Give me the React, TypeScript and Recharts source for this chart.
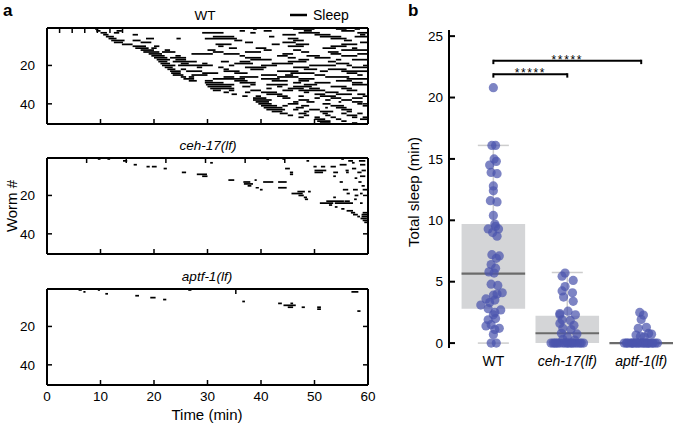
import React from "react";
import {
  ComposedChart,
  XAxis,
  YAxis,
  ReferenceArea,
  ReferenceLine,
  Scatter,
} from "recharts";

const FONT = '"Liberation Sans", Arial, Helvetica, sans-serif';

// ---- panel a: sleep bouts, one row per worm, flat [start, end, start, end, ...] in min
const wtBouts: number[][] = [
  [9, 9.6, 38.5, 39.2, 46, 50, 54, 56, 57.5, 58.5],
  [9.2, 10, 13, 14, 36, 37, 40.5, 42, 48, 49.5, 55, 57.5],
  [10, 11.2, 12.5, 13.5, 29, 33, 38, 39, 47, 51, 58, 60],
  [10.5, 11.5, 16, 17, 44, 46.5, 50, 53, 58.5, 59.5],
  [11, 12.5, 31, 35, 41.5, 42.5, 51, 55, 57.5, 60],
  [11.5, 13, 18.5, 20, 24.2, 25, 29.5, 35.5, 45, 47, 53, 56],
  [12, 14.5, 16, 17.5, 35, 36.5, 46, 48, 55.5, 57],
  [12.5, 14.2, 17.5, 19.5, 37, 38.5, 44, 46.5, 58.5, 60],
  [14, 16, 31.5, 34.5, 42, 43.5, 46.5, 49, 55, 58],
  [16, 18.5, 20, 21, 32, 33, 45, 48, 53, 56],
  [16.5, 19, 19.5, 20.5, 34, 35.5, 39, 41, 51.5, 54, 57, 58],
  [17.5, 20, 22, 23, 30, 31.5, 40.5, 42, 46, 47.5, 55, 60],
  [18, 21, 21.5, 24, 31, 33, 37, 40, 47.5, 49, 52.5, 54.5],
  [19, 21.5, 27, 31, 33, 36, 44, 46, 53, 55, 58, 60],
  [19.5, 22, 24, 25, 36, 37, 43, 45, 48.5, 51, 55, 58],
  [20, 22.5, 23, 26, 37, 40, 45, 46.5, 50, 53],
  [20.5, 23, 24, 26, 38, 42, 47, 49, 54, 55, 57, 60],
  [20.8, 22.5, 23.5, 28, 32.5, 34, 36, 38, 45, 48.5, 52.5, 54],
  [21.2, 23, 25, 26.5, 29, 30, 35, 38.5, 42, 46, 54, 56.5],
  [21.5, 24, 24.5, 31, 34, 35, 40, 43, 49, 54, 56, 57],
  [22, 23.5, 28, 29, 32, 33, 37, 41, 46, 49, 57, 60],
  [22.5, 24, 25, 26, 33, 34, 38, 40.5, 48, 50.5, 52.5, 56],
  [23, 25, 26, 29, 33, 36, 43, 47, 51, 52.5, 55, 60],
  [23.2, 25, 29, 32, 35, 37.5, 45.5, 50, 56, 58],
  [23.5, 25.5, 27, 30, 40, 43, 44.5, 46, 50, 52, 58, 59],
  [25, 26, 26.5, 27.5, 33, 35, 36, 39.5, 43, 47, 52, 56.5],
  [25.5, 27.5, 31, 37, 40, 43.5, 47, 50, 56, 60],
  [26.5, 28, 29.5, 31, 35, 37.5, 42, 45, 47, 49, 54, 57],
  [29.5, 33, 36, 39, 46, 47.5, 50, 53, 57, 59],
  [29.7, 35, 38, 39, 41, 45, 48, 50.5, 57, 60],
  [30, 34.5, 36.5, 38, 43, 44, 46, 49.5, 53, 56],
  [30.5, 35, 41, 42, 45, 48, 49, 51, 55, 57],
  [31, 32.5, 34, 35, 38, 40, 44, 46, 47, 52, 56, 58],
  [33, 34, 37, 38, 40, 43, 48, 49, 52, 54.5],
  [34.5, 35.5, 41, 44, 50, 52, 54, 57, 58, 59.5],
  [36.5, 37.5, 39, 40, 43, 45, 47, 48, 51, 54, 59, 60],
  [38.5, 41, 44, 45.5, 50, 51, 53, 55, 57, 59],
  [38.5, 42, 47, 49, 52, 53, 55, 57],
  [39, 41.5, 46, 47, 48.5, 50, 54.5, 55, 57, 59],
  [39.5, 42, 45, 47, 51.5, 53, 58, 59],
  [40, 43, 44, 45, 47.5, 49, 53, 55.5, 59, 60],
  [40.5, 44, 46.5, 48, 52, 52.5, 54, 56],
  [41, 44.5, 46, 47, 49, 51, 55, 57],
  [42, 44, 48, 49, 51, 53.5, 56, 57],
  [43.5, 45, 47, 48.5, 51.5, 52.5, 55, 56, 58, 59],
  [45, 46, 48, 49, 52, 53, 56, 58],
  [47, 48, 50, 51, 53, 54, 57, 58, 59, 60],
  [50, 52, 54, 55, 58.5, 60],
  [50.5, 53, 55, 56],
  [51, 53, 57, 58],
];

const cehBouts: number[][] = [
  [9.5, 10, 11.3, 11.8, 41, 41.5, 44, 44.5, 55, 55.5],
  [14.2, 15, 48.5, 49, 56.3, 57.2, 58.3, 59.5],
  [30.5, 31, 57, 57.5],
  [16.2, 16.8, 54.7, 56, 58.5, 59.5],
  [18.6, 19.2, 19.6, 20.5, 49.8, 50.4, 51.2, 52, 53, 54],
  [21.8, 22.4, 44.5, 45.4, 57, 57.8],
  [50, 52.2, 55.8, 56.4, 58.8, 59.6],
  [25.2, 26, 45.4, 46, 50, 51.6, 53.5, 54.4, 55.9, 56.4, 58, 58.8],
  [28, 29.9, 45.4, 46],
  [29, 30, 53.5, 54, 58.5, 59.5],
  [57.5, 58],
  [33.9, 35, 38.8, 39.2],
  [36.7, 38, 40.4, 42.3, 43.2, 44.8, 54.7, 55.3, 58.2, 58.8],
  [36.8, 38.5],
  [37.5, 38.2, 58.8, 59.4],
  [39, 39.6, 43.2, 44.8],
  [39.8, 40.3, 55.3, 56.3, 57.2, 58.1, 59, 60],
  [46.8, 48.2, 48.8, 49.3],
  [45.7, 47.8, 56, 56.6, 58.5, 59],
  [47, 48, 57.5, 58.2],
  [48, 48.6, 53.5, 54],
  [48.2, 48.8, 57.4, 57.9],
  [52.2, 55.5, 55.6, 56.6],
  [51, 53.5, 53.8, 57.2, 58.5, 59],
  [52.7, 53.3],
  [53.8, 54.3],
  [55, 55.6],
  [56, 57.2],
  [56.8, 57.6, 59, 60],
  [57.2, 58.1, 58.8, 60],
  [58, 58.5, 58.8, 60],
  [58.6, 59.8],
  [59, 60],
  [59.3, 60],
];

const aptfBouts: number[][] = [
  [5.9, 6.5, 9.5, 9.9, 26.4, 27],
  [6.8, 7.2, 56.9, 58.2],
  [10.9, 11.4],
  [16.5, 17.2],
  [19.3, 20.3],
  [21.7, 22.3],
  [36.5, 37],
  [43.2, 43.9, 45.5, 46],
  [44.2, 46.5],
  [45, 46, 47.6, 48.2, 50.5, 51.2],
  [50.5, 51.2],
  [58, 58.6],
];

const timeTicks = [0, 10, 20, 30, 40, 50, 60];
const wormTicks = [20, 40];

// ---- panel b: total sleep per worm (min) and the x jitter of each dot
const groups = ["WT", "ceh-17(lf)", "aptf-1(lf)"];

const wtSleep = [
  20.8, 16.1, 16.1, 15.0, 14.8, 14.5, 13.9, 13.8, 12.8, 12.4, 11.6, 11.5, 10.4,
  9.7, 9.5, 9.3, 9.3, 9.0, 8.7, 7.2, 7.1, 6.9, 6.4, 6.1, 5.8, 5.7, 4.8, 4.7,
  4.1, 4.0, 3.9, 3.6, 3.5, 3.3, 3.1, 2.8, 2.7, 2.5, 2.3, 2.0, 1.9, 1.5, 1.4,
  1.2, 1.1, 0.7, 0.0, 0.0,
];
const wtJitter = [
  0, -0.02, 0.03, 0.01, 0.04, -0.05, -0.03, 0.05, 0, 0, -0.04, 0.05, 0, 0.02,
  0.03, -0.07, 0.07, -0.01, 0.05, -0.02, 0.08, 0.04, -0.03, 0.03, -0.06, 0.01,
  -0.03, 0.06, 0.12, 0.05, 0, -0.1, 0.02, -0.05, -0.17, -0.07, 0.1, 0.02, 0,
  0.03, -0.07, -0.03, -0.1, 0.08, 0.02, 0, -0.03, 0.04,
];

const cehSleep = [
  5.7, 5.45, 5.1, 4.6, 4.25, 4.1, 3.75, 3.4, 2.6, 2.4, 2.3, 2.3, 1.9, 1.85,
  1.6, 1.45, 1.2, 1.1, 0.8, 0.75, 0.5, 0.3, 0.25, 0, 0, 0, 0, 0, 0, 0, 0, 0,
  0, 0, 0, 0, 0, 0, 0, 0, 0,
];
const cehJitter = [
  -0.03, -0.07, 0.08, -0.03, -0.07, 0.07, -0.05, 0.08, 0.01, -0.1, -0.1, 0.11,
  -0.07, 0.04, -0.1, 0.09, -0.06, 0.05, -0.08, 0.13, 0, -0.06, 0.1, -0.22,
  -0.17, -0.13, -0.1, -0.06, -0.03, 0.01, 0.04, 0.08, 0.11, 0.14, 0.19, 0.22,
  -0.19, 0.0, 0.06, -0.15, 0.17,
];

const aptfSleep = [
  2.5, 2.28, 1.93, 1.28, 1.2, 0.79, 0.73, 0.65, 0.55, 0.5, 0, 0, 0, 0, 0, 0,
  0, 0, 0, 0, 0, 0, 0, 0, 0, 0, 0, 0, 0, 0, 0, 0,
];
const aptfJitter = [
  -0.02, 0.03, 0, 0.07, -0.04, 0.1, 0.14, -0.07, -0.01, 0.04, -0.23, -0.2,
  -0.16, -0.13, -0.11, -0.08, -0.04, -0.02, 0.01, 0.05, 0.07, 0.1, 0.12, 0.16,
  0.19, 0.22, -0.12, 0.03, -0.06, 0.09, 0.15, -0.19,
];

// box stats
const boxLow = [0, 0, 0];
const boxQ1 = [2.8, 0, 0];
const boxMedian = [5.65, 0.8, 0];
const boxQ3 = [9.7, 2.22, 0];
const boxHigh = [16.1, 5.75, 0];

const sleepTicks = [0, 5, 10, 15, 20, 25];
// [from group, to group, bracket height]
const sigBrackets = [
  [0, 1, 21.9],
  [0, 2, 23.0],
];
const sigText = "*****";

const DOT = "#4b55ad";

function toSegments(rows: number[][]) {
  const out: { worm: number; start: number; end: number }[] = [];
  rows.forEach((r, i) => {
    for (let k = 0; k + 1 < r.length; k += 2) {
      out.push({ worm: i + 1, start: r[k], end: r[k + 1] });
    }
  });
  return out;
}

const timeTick = (labels: boolean) => (p: any) => (
  <g>
    <line x1={p.x} x2={p.x} y1={p.y - 1} y2={p.y - 5} stroke="#000" strokeWidth={1.5} />
    {labels && (
      <text x={p.x} y={p.y + 16} textAnchor="middle" fontSize={13.5} fontFamily={FONT} fill="#000">
        {p.payload.value}
      </text>
    )}
  </g>
);

const topTick = (p: any) => (
  <line x1={p.x} x2={p.x} y1={p.y + 1} y2={p.y + 5} stroke="#000" strokeWidth={1.5} />
);

const wormTick = (p: any) => (
  <g>
    <line x1={p.x + 1} x2={p.x + 5} y1={p.y} y2={p.y} stroke="#000" strokeWidth={1.5} />
    <text x={p.x - 12} y={p.y + 4.8} textAnchor="end" fontSize={13.5} fontFamily={FONT} fill="#000">
      {p.payload.value}
    </text>
  </g>
);

const rightTick = (p: any) => (
  <line x1={p.x - 1} x2={p.x - 5} y1={p.y} y2={p.y} stroke="#000" strokeWidth={1.5} />
);

function Raster({
  rows,
  top,
  height,
  marginTop,
  showTime,
}: {
  rows: number[][];
  top: number;
  height: number;
  marginTop: number;
  showTime: boolean;
}) {
  const segs = toSegments(rows);
  const frame = { stroke: "#000", strokeWidth: 2 };
  return (
    <div style={{ position: "absolute", left: 0, top, width: 380, height }}>
      <ComposedChart
        width={380}
        height={height}
        data={segs}
        margin={{ top: marginTop - 1, right: 11, bottom: height - marginTop - 97, left: 46 }}
      >
        <XAxis
          type="number"
          dataKey="start"
          domain={[0, 60]}
          ticks={timeTicks}
          interval={0}
          allowDataOverflow
          height={1}
          tickSize={0}
          tickMargin={0}
          tickLine={false}
          axisLine={frame}
          tick={timeTick(showTime)}
        />
        <XAxis
          xAxisId="top"
          orientation="top"
          type="number"
          domain={[0, 60]}
          ticks={timeTicks}
          interval={0}
          allowDataOverflow
          height={1}
          tickSize={0}
          tickMargin={0}
          tickLine={false}
          axisLine={frame}
          tick={topTick}
        />
        <YAxis
          type="number"
          dataKey="worm"
          domain={[0.5, 50.5]}
          reversed
          ticks={wormTicks}
          interval={0}
          allowDataOverflow
          width={1}
          tickSize={0}
          tickMargin={0}
          tickLine={false}
          axisLine={frame}
          tick={wormTick}
        />
        <YAxis
          yAxisId="right"
          orientation="right"
          type="number"
          domain={[0.5, 50.5]}
          reversed
          ticks={wormTicks}
          interval={0}
          allowDataOverflow
          width={1}
          tickSize={0}
          tickMargin={0}
          tickLine={false}
          axisLine={frame}
          tick={rightTick}
        />
        {segs.map((s, i) => (
          <ReferenceArea
            key={i}
            x1={s.start}
            x2={s.end}
            y1={s.worm - 0.45}
            y2={s.worm + 0.45}
            fill="#000"
            fillOpacity={1}
            stroke="none"
            ifOverflow="hidden"
          />
        ))}
        <Scatter data={segs} shape={() => <g />} isAnimationActive={false} />
      </ComposedChart>
    </div>
  );
}

const sleepTick = (p: any) => (
  <g>
    <line x1={p.x} x2={p.x + 6} y1={p.y} y2={p.y} stroke="#000" strokeWidth={2} />
    <text x={p.x - 6} y={p.y + 4.8} textAnchor="end" fontSize={13.5} fontFamily={FONT} fill="#000">
      {p.payload.value}
    </text>
  </g>
);

const groupTick = (p: any) => (
  <text
    x={p.x}
    y={p.y + 18}
    textAnchor="middle"
    fontSize={14}
    fontFamily={FONT}
    fontStyle={p.payload.value > 0 ? "italic" : "normal"}
    fill="#000"
  >
    {groups[p.payload.value]}
  </text>
);

const dotShape = (p: any) => (
  <circle cx={p.cx} cy={p.cy} r={4.6} fill={DOT} fillOpacity={0.72} />
);

const starShape = (p: any) => (
  <text x={p.cx} y={p.cy + 3} textAnchor="middle" fontSize={12} letterSpacing={1.6} fontFamily={FONT} fill="#000">
    {sigText}
  </text>
);

function points(values: number[], jitter: number[], g: number) {
  return values.map((v, i) => ({ x: g + (jitter[i] ?? 0), y: v }));
}

function SleepBox() {
  const sets = [
    points(wtSleep, wtJitter, 0),
    points(cehSleep, cehJitter, 1),
    points(aptfSleep, aptfJitter, 2),
  ];
  const stars = sigBrackets.map(([a, b, h]) => ({ x: (a + b) / 2, y: h }));
  const half = 0.43;
  const cap = 0.21;
  return (
    <div style={{ position: "absolute", left: 420, top: 0, width: 253, height: 428 }}>
      <ComposedChart width={253} height={428} margin={{ top: 30, right: 0, bottom: 79, left: 28 }}>
        <XAxis
          type="number"
          dataKey="x"
          domain={[-0.6, 2.43]}
          ticks={[0, 1, 2]}
          interval={0}
          allowDataOverflow
          height={1}
          tickSize={0}
          tickMargin={0}
          tickLine={false}
          axisLine={false}
          tick={groupTick}
        />
        <YAxis
          type="number"
          dataKey="y"
          domain={[-0.4, 25.5]}
          ticks={sleepTicks}
          interval={0}
          allowDataOverflow
          width={1}
          tickSize={0}
          tickMargin={0}
          tickLine={false}
          axisLine={{ stroke: "#000", strokeWidth: 2 }}
          tick={sleepTick}
        />
        {groups.map((_, g) =>
          boxQ3[g] > boxQ1[g] ? (
            <ReferenceArea
              key={"box" + g}
              x1={g - half}
              x2={g + half}
              y1={boxQ1[g]}
              y2={boxQ3[g]}
              fill="#d4d5d7"
              fillOpacity={1}
              stroke="none"
              ifOverflow="hidden"
            />
          ) : null
        )}
        {groups.map((_, g) =>
          boxHigh[g] > boxQ3[g] ? (
            <ReferenceLine
              key={"wu" + g}
              segment={[
                { x: g, y: boxQ3[g] },
                { x: g, y: boxHigh[g] },
              ]}
              stroke="#cdcdcd"
              strokeWidth={1.5}
            />
          ) : null
        )}
        {groups.map((_, g) =>
          boxHigh[g] > boxQ3[g] ? (
            <ReferenceLine
              key={"cu" + g}
              segment={[
                { x: g - cap, y: boxHigh[g] },
                { x: g + cap, y: boxHigh[g] },
              ]}
              stroke="#cdcdcd"
              strokeWidth={1.5}
            />
          ) : null
        )}
        {groups.map((_, g) =>
          boxQ1[g] > boxLow[g] ? (
            <ReferenceLine
              key={"cl" + g}
              segment={[
                { x: g - cap, y: boxLow[g] },
                { x: g + cap, y: boxLow[g] },
              ]}
              stroke="#cdcdcd"
              strokeWidth={1.5}
            />
          ) : null
        )}
        {groups.map((_, g) => (
          <ReferenceLine
            key={"med" + g}
            segment={[
              { x: g - half, y: boxMedian[g] },
              { x: g + half, y: boxMedian[g] },
            ]}
            stroke="#6b6b6b"
            strokeWidth={2.2}
            ifOverflow="hidden"
          />
        ))}
        {sigBrackets.map(([a, b, h], i) => (
          <ReferenceLine
            key={"sig" + i}
            segment={[
              { x: a, y: h },
              { x: b, y: h },
            ]}
            stroke="#000"
            strokeWidth={2}
          />
        ))}
        {sigBrackets.flatMap(([a, b, h], i) =>
          [a, b].map((e, j) => (
            <ReferenceLine
              key={"tk" + i + "-" + j}
              segment={[
                { x: e, y: h + 0.08 },
                { x: e, y: h - 0.28 },
              ]}
              stroke="#000"
              strokeWidth={2}
            />
          ))
        )}
        {sets.map((d, g) => (
          <Scatter key={"pts" + g} data={d} shape={dotShape} isAnimationActive={false} />
        ))}
        <Scatter data={stars} shape={starShape} isAnimationActive={false} />
      </ComposedChart>
    </div>
  );
}

export default function App() {
  const txt = { fontFamily: FONT, fill: "#000" } as const;
  return (
    <div
      style={{
        position: "absolute",
        left: 0,
        top: 0,
        width: 673,
        height: 428,
        background: "#fff",
        fontFamily: FONT,
      }}
    >
      <Raster rows={wtBouts} top={0} height={130} marginTop={28} showTime={false} />
      <Raster rows={cehBouts} top={130} height={130} marginTop={28} showTime={false} />
      <Raster rows={aptfBouts} top={260} height={168} marginTop={29} showTime={true} />
      <SleepBox />
      <svg
        width={673}
        height={428}
        style={{ position: "absolute", left: 0, top: 0, pointerEvents: "none" }}
      >
        <text x={3} y={16} fontSize={17} fontWeight="bold" {...txt}>a</text>
        <text x={408} y={16} fontSize={17} fontWeight="bold" {...txt}>b</text>
        <text x={205} y={20} fontSize={13.5} textAnchor="middle" {...txt}>WT</text>
        <line x1={290} x2={307} y1={15} y2={15} stroke="#000" strokeWidth={2.5} />
        <text x={313} y={20} fontSize={14} {...txt}>Sleep</text>
        <text x={208} y={150} fontSize={13.5} fontStyle="italic" textAnchor="middle" {...txt}>
          ceh-17(lf)
        </text>
        <text x={207} y={281} fontSize={13.5} fontStyle="italic" textAnchor="middle" {...txt}>
          aptf-1(lf)
        </text>
        <text x={207} y={420} fontSize={15} textAnchor="middle" {...txt}>Time (min)</text>
        <text transform="translate(17,206) rotate(-90)" fontSize={15} textAnchor="middle" {...txt}>
          Worm #
        </text>
        <text transform="translate(419,192) rotate(-90)" fontSize={15} textAnchor="middle" {...txt}>
          Total sleep (min)
        </text>
      </svg>
    </div>
  );
}
